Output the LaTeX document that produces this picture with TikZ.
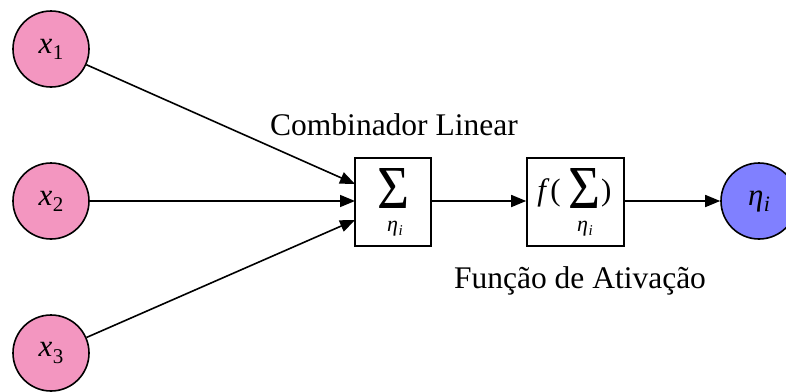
\documentclass[tikz,border=0pt]{standalone}
\usepackage{graphicx}
\usepackage{fontspec}
\setmainfont{Liberation Serif}
\usetikzlibrary{arrows.meta}
\definecolor{pinkin}{RGB}{243,150,192}
\definecolor{blueout}{RGB}{128,128,255}
\newcommand{\vsub}[3]{\textit{#1}\kern0.5pt\raisebox{-0.2em}{\fontsize{#3}{#3}\selectfont #2}}
\newcommand{\bigsum}{\resizebox*{32pt}{40pt}{Σ}}
\begin{document}
\begin{tikzpicture}[x=1pt,y=-1pt,
  inp/.style={circle,draw=black,line width=1.6pt,fill=pinkin,minimum size=76pt,inner sep=0pt,font=\fontsize{31}{36}\selectfont},
  outp/.style={circle,draw=black,line width=1.6pt,fill=blueout,minimum size=76pt,inner sep=0pt,font=\fontsize{31}{36}\selectfont},
  blk/.style={rectangle,draw=black,line width=1.6pt,fill=white,inner sep=0pt},
  sym/.style={inner sep=0pt,font=\fontsize{31}{36}\selectfont},
  sub/.style={inner sep=0pt,font=\fontsize{22}{24}\selectfont},
  conn/.style={line width=1.6pt,-{Triangle[length=15pt,width=12pt]}},
  lbl/.style={inner sep=0pt,font=\fontsize{31.5}{36}\selectfont}]
\useasboundingbox (0,0) rectangle (786,391);
\node[inp] (x1) at (51,49) {\vsub{x}{1}{21}};
\node[inp] (x2) at (51,201) {\vsub{x}{2}{21}};
\node[inp] (x3) at (51,353) {\vsub{x}{3}{21}};
\node[blk,minimum width=76pt,minimum height=88pt] (s) at (393,202) {};
\node[blk,minimum width=97pt,minimum height=88pt] (f) at (575.5,202) {};
\node[sym,anchor=north] (s1) at (393,168) {\bigsum};
\node[sub,anchor=base] (e1) at (395,231) {\vsub{η}{\textit{i}}{15}};
\node[sym,anchor=base east] (fp) at (561,200) {\textit{f}\kern1pt(};
\node[sym,anchor=north] (s2) at (584,168) {\bigsum};
\node[sym,anchor=base west] (cp) at (601,200) {)};
\node[sub,anchor=base] (e2) at (585,231) {\vsub{η}{\textit{i}}{15}};
\node[outp] (o) at (759,201) {\vsub{η}{\textit{i}}{22}};
\coordinate (t1) at (355,184);
\coordinate (t2) at (355,201);
\coordinate (t3) at (355,220);
\draw[conn] (x1) -- (t1);
\draw[conn] (x2) -- (t2);
\draw[conn] (x3) -- (t3);
\draw[conn] (s.east |- t2) -- (f.west |- t2);
\draw[conn] (f.east |- t2) -- (o);
\node[lbl,anchor=base] (cl) at (394,135) {Combinador Linear};
\node[lbl,anchor=base] (fa) at (580,288) {Função de Ativação};
\end{tikzpicture}
\end{document}
